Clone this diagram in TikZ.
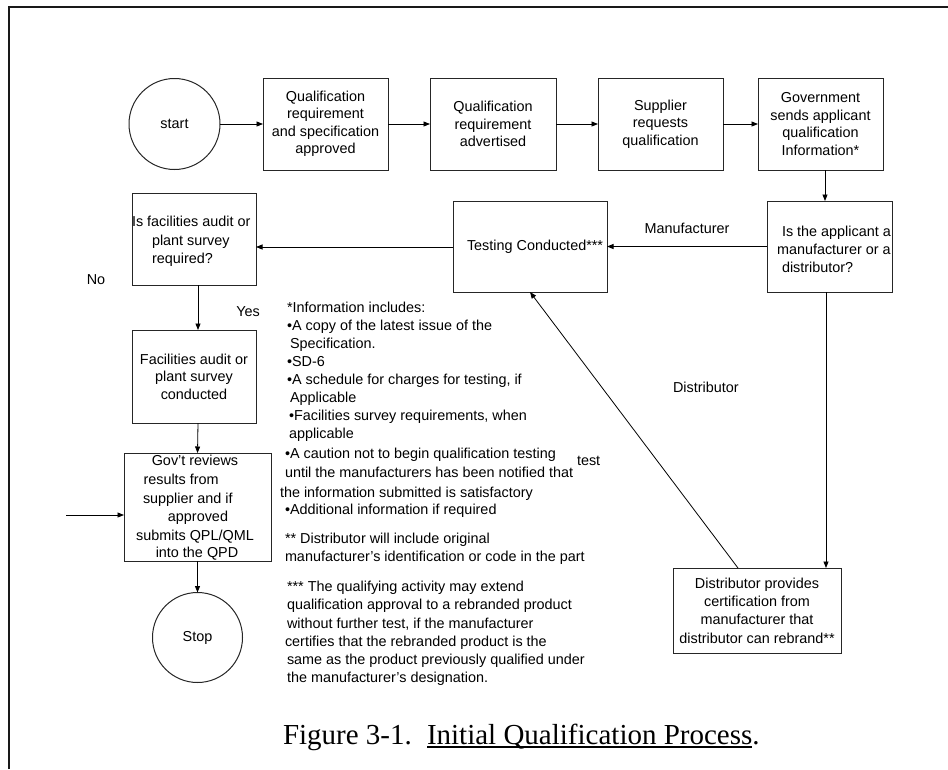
\documentclass[tikz,border=0pt]{standalone}
\usepackage{fontspec}
\setmainfont{Liberation Sans}
\newfontfamily\capfont{Liberation Serif}
\usetikzlibrary{arrows.meta}
\begin{document}
\begin{tikzpicture}[x=1pt,y=-1pt,
  every node/.style={inner sep=0pt, outer sep=0pt, font=\fontsize{14.4}{17.5}\selectfont},
  box/.style={draw=black!85, line width=1pt, align=center},
  circ/.style={draw=black!85, line width=1pt, circle, minimum size=#1},
  arr/.style={-{Triangle[length=6.5pt,width=5pt]}, line width=0.8pt, draw=black},
  plain/.style={line width=0.8pt, draw=black},
  note/.style={anchor=base west},
  lab/.style={anchor=center}]
\useasboundingbox (0,0) rectangle (948,769);
% frame
\draw[line width=2pt, black!90] (9,769) -- (9,7) -- (948,7);

% top row
\node[circ=91pt] (start) at (174.5,124) {start};
\node[box, minimum width=125pt, minimum height=92pt] (b1) at (325.5,124) {Qualification\\requirement\\and specification\\approved};
\node[box, minimum width=126pt, minimum height=92pt] (b2) at (493,124) {Qualification\\requirement\\advertised};
\node[box, minimum width=125pt, minimum height=92pt] (b3) at (660.5,124) {Supplier\\requests\\qualification};
\node[box, minimum width=125pt, minimum height=92pt] (b4) at (820.5,124) {Government\\sends applicant\\qualification\\Information*};

% second row
\node[box, minimum width=124pt, minimum height=92pt] (fac) at (194,239) {};
\node[anchor=west, align=left, font=\fontsize{14.4}{18.5}\selectfont] (factxt) at (132,241.5) {Is facilities audit or\\\hspace*{20pt}plant survey\\\hspace*{20pt}required?};
\node[box, minimum width=154pt, minimum height=91pt] (test) at (530,246.5) {};
\node[anchor=west] (testtxt) at (467,247) {Testing Conducted***};
\node[box, minimum width=125pt, minimum height=91pt] (ap) at (829.5,246.5) {};
\node[anchor=west, align=left, font=\fontsize{14.4}{18}\selectfont] (aptxt) at (777,249) {\hspace*{5pt}Is the applicant a\\manufacturer or a\\\hspace*{5pt}distributor?};

% left column
\node[box, minimum width=124pt, minimum height=93pt] (aud) at (194,376.5) {Facilities audit or\\plant survey\\conducted};
\node[box, minimum width=147pt, minimum height=108pt] (gov) at (197.5,507) {};
\node[anchor=base] (g1) at (195,465) {Gov’t reviews};
\node[anchor=base west] (g2) at (143.5,484) {results from};
\node[anchor=base west] (g3) at (143,503) {supplier and if};
\node[anchor=base] (g4) at (198,521) {approved};
\node[anchor=base] (g5) at (195,540) {submits QPL/QML};
\node[anchor=base] (g6) at (197,557) {into the QPD};
\node[circ=90pt] (stop) at (197.5,637.5) {Stop};

% distributor box
\node[box, minimum width=168pt, minimum height=85pt, font=\fontsize{14.4}{18.3}\selectfont] (dist) at (757,610.5) {Distributor provides\\certification from\\manufacturer that\\distributor can rebrand**};

% labels
\node[lab] (lman) at (687,228) {Manufacturer};
\node[lab] (lyes) at (248,312) {Yes};
\node[lab] (lno) at (96,280) {No};
\node[anchor=west] (ldist) at (673,387) {Distributor};
\node[anchor=west] (ltest) at (577,461) {test};

% notes
\node[note] (n1) at (287,312) {*Information includes:};
\node[note] (n2) at (287,330) {•A copy of the latest issue of the};
\node[note] (n3) at (290,348) {Specification.};
\node[note] (n4) at (287,366) {•SD-6};
\node[note] (n5) at (287,384) {•A schedule for charges for testing, if};
\node[note] (n6) at (290,402) {Applicable};
\node[note] (n7) at (289,420) {•Facilities survey requirements, when};
\node[note] (n8) at (289,438) {applicable};
\node[note] (n9) at (285,458) {•A caution not to begin qualification testing};
\node[note] (n10) at (285,477) {until the manufacturers has been notified that};
\node[note] (n11) at (280,497) {the information submitted is satisfactory};
\node[note] (n12) at (285,514) {•Additional information if required};
\node[note] (n13) at (285,543) {** Distributor will include original};
\node[note] (n14) at (285,561) {manufacturer’s identification or code in the part};
\node[note] (n15) at (287,591) {*** The qualifying activity may extend};
\node[note] (n16) at (287,609) {qualification approval to a rebranded product};
\node[note] (n17) at (287,628) {without further test, if the manufacturer};
\node[note] (n18) at (285,646) {certifies that the rebranded product is the};
\node[note] (n19) at (287,664) {same as the product previously qualified under};
\node[note] (n20) at (287,682) {the manufacturer’s designation.};

% caption
\node[anchor=base west, font=\capfont\fontsize{29}{34}\selectfont] (capA) at (283,744) {Figure 3-1.};
\node[anchor=base west, font=\capfont\fontsize{29}{34}\selectfont] (capB) at (427,744) {Initial Qualification Process};
\node[anchor=base west, font=\capfont\fontsize{29}{34}\selectfont] (capC) at (capB.base east) {.};
\draw[line width=1.8pt] ([yshift=-3pt]capB.base west) -- ([yshift=-3pt]capB.base east);

% connectors
\draw[arr] (start) -- (b1);
\draw[arr] (b1) -- (b2);
\draw[arr] (b2) -- (b3);
\draw[arr] (b3) -- (b4);
\draw[arr] ([xshift=4.5pt]b4.south) -- ([xshift=-4.5pt]ap.north);
\draw[arr] (ap.west) -- (test.east);
\draw[arr] ([yshift=-0.5pt]test.west) -- ([yshift=-0.5pt]test.west -| fac.east);
\draw[arr] ([xshift=4pt]fac.south) -- ([xshift=4pt]aud.north);
\draw[arr] ([xshift=4pt]aud.south) -- (gov.north);
\draw[arr] (gov.south) -- (stop.north);
\coordinate (inl) at (66,515);
\draw[arr] (inl) -- (inl -| gov.west);
\draw[arr] ([xshift=-3.5pt]ap.south) -- ([xshift=-3.5pt]ap.south |- dist.north);
\draw[arr] ([xshift=-19pt]dist.north) -- (test.south);
\end{tikzpicture}
\end{document}
